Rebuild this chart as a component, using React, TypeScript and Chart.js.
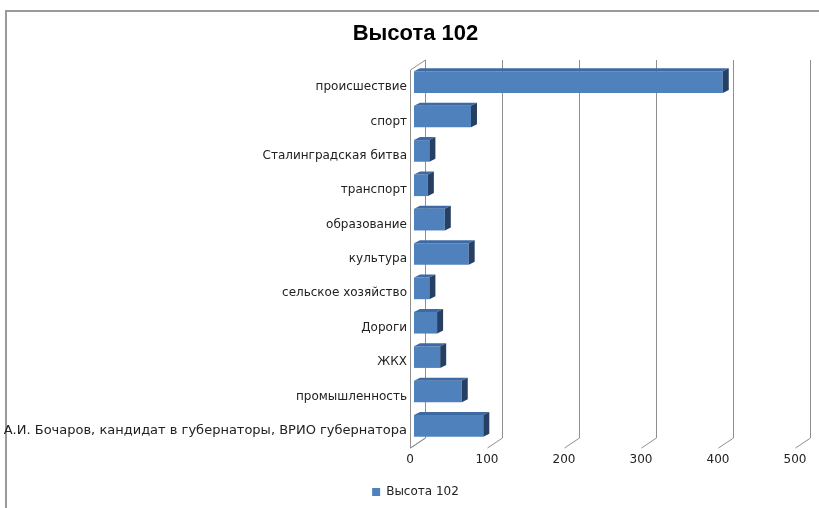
import React, { useEffect, useRef } from "react";
import { Chart, registerables } from "chart.js";

Chart.register(...registerables);

const categories = [
  "происшествие",
  "спорт",
  "Сталинградская битва",
  "транспорт",
  "образование",
  "культура",
  "сельское хозяйство",
  "Дороги",
  "ЖКХ",
  "промышленность",
  "А.И. Бочаров, кандидат в губернаторы, ВРИО губернатора",
];
const values = [401, 74, 20, 18, 40, 71, 20, 30, 34, 62, 90];
const seriesName = "Высота 102";
const xTicks = [0, 100, 200, 300, 400, 500];

const DEPTH_X = 15;
const DEPTH_Y = 10;
const BAR_DX = 4;
const BAR_DY = -5;
const BAR_SIDE_X = 6;
const BAR_SIDE_Y = 3;

const threeD = {
  id: "threeD",
  beforeDatasetsDraw(chart: any) {
    const { ctx, chartArea } = chart;
    const xs = chart.scales.x;
    const top = chartArea.top;
    const bottom = chartArea.bottom;
    ctx.save();
    ctx.strokeStyle = "#8f8f8f";
    ctx.lineWidth = 1;
    const x0 = Math.round(xs.getPixelForValue(0)) + 0.5;
    ctx.beginPath();
    ctx.moveTo(x0, top);
    ctx.lineTo(x0, bottom);
    ctx.lineTo(x0 + DEPTH_X, bottom - DEPTH_Y);
    ctx.moveTo(x0, top);
    ctx.lineTo(x0 + DEPTH_X, top - DEPTH_Y);
    ctx.stroke();
    for (const v of xTicks) {
      const x = Math.round(xs.getPixelForValue(v)) + 0.5;
      ctx.beginPath();
      ctx.moveTo(x + DEPTH_X, top - DEPTH_Y);
      ctx.lineTo(x + DEPTH_X, bottom - DEPTH_Y);
      ctx.lineTo(x, bottom);
      ctx.stroke();
    }
    ctx.restore();
    ctx.save();
    ctx.translate(BAR_DX, BAR_DY);
  },
  afterDatasetsDraw(chart: any) {
    const { ctx } = chart;
    const meta = chart.getDatasetMeta(0);
    meta.data.forEach((bar: any) => {
      const { x, y, base, height } = bar.getProps(["x", "y", "base", "height"], true);
      const t = y - height / 2;
      const b = y + height / 2;
      ctx.fillStyle = "#3d6aa3";
      ctx.beginPath();
      ctx.moveTo(base, t);
      ctx.lineTo(base + BAR_SIDE_X, t - BAR_SIDE_Y);
      ctx.lineTo(x + BAR_SIDE_X, t - BAR_SIDE_Y);
      ctx.lineTo(x, t);
      ctx.closePath();
      ctx.fill();
      ctx.fillStyle = "#263f63";
      ctx.beginPath();
      ctx.moveTo(x, t);
      ctx.lineTo(x + BAR_SIDE_X, t - BAR_SIDE_Y);
      ctx.lineTo(x + BAR_SIDE_X, b - BAR_SIDE_Y);
      ctx.lineTo(x, b);
      ctx.closePath();
      ctx.fill();
    });
    ctx.restore();
  },
};

const frame = {
  id: "frame",
  beforeDraw(chart: any) {
    const { ctx } = chart;
    // allow the long category label to extend left of the axis box
    if (chart.scales.y) chart.scales.y._computeLabelArea = () => undefined;
    ctx.save();
    ctx.strokeStyle = "#9a9a9a";
    ctx.lineWidth = 2;
    ctx.beginPath();
    ctx.moveTo(6, 520);
    ctx.lineTo(6, 11);
    ctx.lineTo(830, 11);
    ctx.stroke();
    ctx.restore();
  },
};

export default function App() {
  const ref = useRef<HTMLCanvasElement>(null);
  useEffect(() => {
    if (!ref.current) return;
    const chart = new Chart(ref.current, {
      type: "bar",
      data: {
        labels: categories,
        datasets: [
          {
            label: seriesName,
            data: values,
            backgroundColor: "#4f81bd",
            borderWidth: 0,
            barPercentage: 0.63,
            categoryPercentage: 1,
          },
        ],
      },
      options: {
        indexAxis: "y",
        animation: false,
        responsive: false,
        devicePixelRatio: 1,
        layout: { padding: { left: 36, right: 24, top: 0, bottom: 0 } },
        scales: {
          x: {
            min: 0,
            max: 500,
            ticks: {
              stepSize: 100,
              color: "#222",
              font: { family: "DejaVu Sans", size: 12 },
              padding: 5,
            },
            grid: { display: false, drawTicks: false },
            border: { display: false },
            afterFit(scale: any) {
              scale.height = 32;
            },
          },
          y: {
            ticks: {
              color: "#222",
              font: (c: any) => ({
                family: "DejaVu Sans",
                size: c.index === categories.length - 1 ? 13 : 12,
              }),
              padding: 3,
              autoSkip: false,
            },
            grid: { display: false, drawTicks: false },
            border: { display: false },
            afterFit(scale: any) {
              scale.width = 374;
            },
          },
        },
        plugins: {
          title: {
            display: true,
            text: seriesName,
            color: "#000",
            font: { family: "Liberation Sans", size: 22, weight: "bold" },
            padding: { top: 21, bottom: 22.6 },
          },
          legend: {
            position: "bottom",
            labels: {
              boxWidth: 8,
              boxHeight: 8,
              color: "#222",
              font: { family: "DejaVu Sans", size: 12 },
              padding: 6,
            },
          },
          tooltip: { enabled: false },
        },
      },
      plugins: [frame, threeD],
    });
    return () => chart.destroy();
  }, []);
  return (
    <div style={{ position: "fixed", left: 0, top: 0, width: 819, height: 508, background: "#fff" }}>
      <canvas ref={ref} width={819} height={508} style={{ width: 819, height: 508 }} />
    </div>
  );
}
